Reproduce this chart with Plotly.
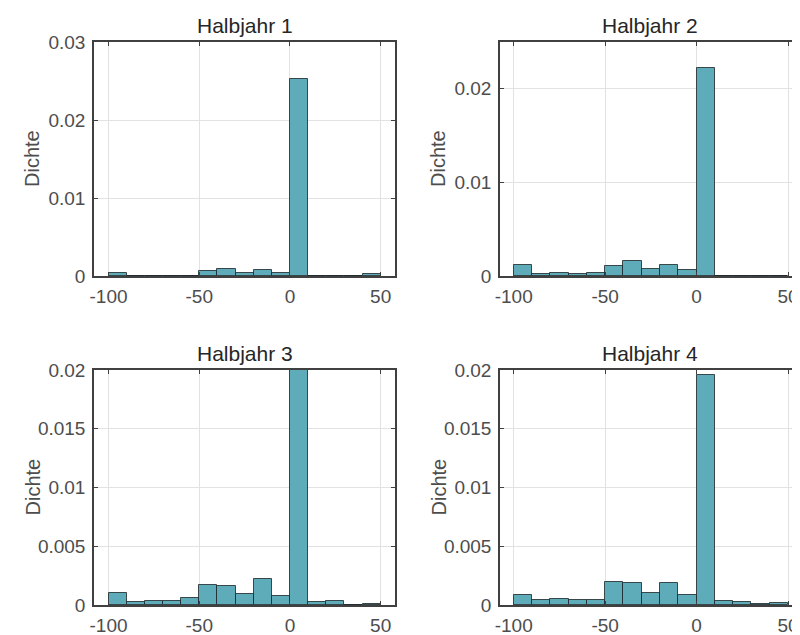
import plotly.graph_objects as go

bin_left = [-100, -90, -80, -70, -60, -50, -40, -30, -20, -10, 0, 10, 20, 30, 40]
bin_width = 10

titles = ["Halbjahr 1", "Halbjahr 2", "Halbjahr 3", "Halbjahr 4"]

dens_h1 = [0.00035, 0.00005, 0, 0, 0, 0.00064, 0.00094, 0.00035, 0.00077, 0.00042,
           0.0252, 0, 0, 0.00005, 0.0002]
dens_h2 = [0.00113, 0.00018, 0.00028, 0.00025, 0.00035, 0.00106, 0.00156, 0.00071, 0.0012, 0.0006,
           0.02215, 0, 0.00005, 0, 0]
dens_h3 = [0.00102, 0.00026, 0.00034, 0.00037, 0.00063, 0.00173, 0.00159, 0.00094, 0.00222, 0.00077,
           0.0206, 0.00026, 0.00037, 0, 0.0001]
dens_h4 = [0.00088, 0.00043, 0.00054, 0.0004, 0.00045, 0.00196, 0.0019, 0.00102, 0.0019, 0.00085,
           0.0196, 0.00031, 0.00023, 0.0001, 0.0002]

y_ticks = [
    [0, 0.01, 0.02, 0.03],
    [0, 0.01, 0.02],
    [0, 0.005, 0.01, 0.015, 0.02],
    [0, 0.005, 0.01, 0.015, 0.02],
]
y_ticktext = [
    ["0", "0.01", "0.02", "0.03"],
    ["0", "0.01", "0.02"],
    ["0", "0.005", "0.01", "0.015", "0.02"],
    ["0", "0.005", "0.01", "0.015", "0.02"],
]
y_max = [0.03, 0.0249, 0.02, 0.02]
x_ticks = [-100, -50, 0, 50]
x_ticktext = ["-100", "-50", "0", "50"]

W, H = 800, 635
OFF = 8  # page body margin offset
# panel pixel boxes on screen (left, right, top, bottom)
boxes = [(94, 395, 42, 276), (500, 799, 42, 276), (94, 395, 370, 605), (500, 799, 370, 605)]
x_ranges = [[-108, 57.9], [-107.5, 56], [-108, 57.9], [-107.5, 56]]

FONT = "Liberation Sans, Arial, Helvetica, sans-serif"
AXC = "#404040"

fig = go.Figure()
all_dens = [dens_h1, dens_h2, dens_h3, dens_h4]
centers = [b + bin_width / 2 for b in bin_left]

annotations = []
for i, dens in enumerate(all_dens):
    n = "" if i == 0 else str(i + 1)
    fig.add_trace(go.Bar(
        x=centers, y=dens, width=[bin_width] * len(centers),
        marker=dict(color="#5eabb9", line=dict(color="rgba(25,35,38,0.8)", width=1)),
        xaxis="x" + n, yaxis="y" + n, showlegend=False,
    ))
    l, r, t, b = [v - OFF for v in boxes[i]]
    xd = [l / W, r / W]
    yd = [1 - b / H, 1 - t / H]
    common = dict(showline=True, mirror="ticks", linecolor=AXC, linewidth=1.5,
                  ticks="inside", ticklen=4, tickcolor=AXC, tickwidth=1.2,
                  showgrid=True, gridcolor="#e2e2e2", gridwidth=1, zeroline=False,
                  automargin=False,
                  tickfont=dict(family=FONT, size=19, color="#4d4d4d"))
    fig.update_layout(**{
        "xaxis" + n: dict(domain=xd, range=x_ranges[i], tickvals=x_ticks, ticktext=x_ticktext,
                          anchor="y" + n, ticklabelstandoff=2, **common),
        "yaxis" + n: dict(domain=yd, range=[0, y_max[i]], tickvals=y_ticks[i], ticktext=y_ticktext[i],
                          anchor="x" + n, ticklabelstandoff=3, **common),
    })
    annotations.append(dict(text=titles[i], xref="paper", yref="paper",
                            x=(l + r) / 2 / W, y=1 - t / H, xanchor="center", yanchor="bottom",
                            yshift=3, showarrow=False,
                            font=dict(family=FONT, size=21, color="#262626")))
    lab_x = (32 if i % 2 == 0 else 438) - OFF
    annotations.append(dict(text="Dichte", xref="paper", yref="paper",
                            x=lab_x / W, y=1 - (t + b) / 2 / H, xanchor="center", yanchor="middle",
                            textangle=-90, showarrow=False,
                            font=dict(family=FONT, size=20, color="#4d4d4d")))

fig.update_layout(width=W, height=H, margin=dict(l=0, r=0, t=0, b=0, autoexpand=False),
                  plot_bgcolor="white", paper_bgcolor="white", bargap=0,
                  annotations=annotations)

fig.write_html("out.html")
